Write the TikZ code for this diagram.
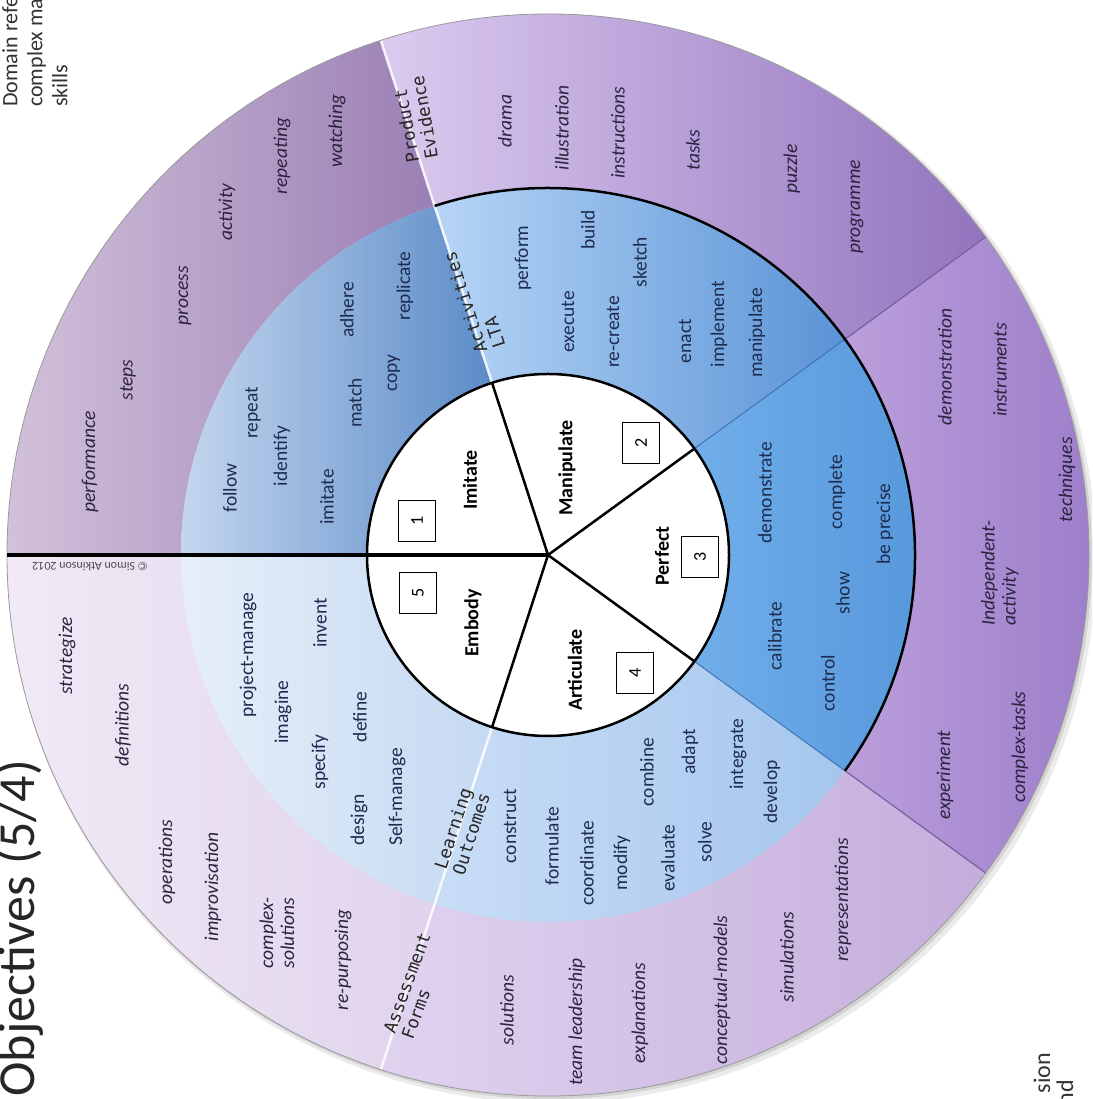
\documentclass[tikz,border=0pt]{standalone}
\usepackage{fontspec}
\setmainfont{Carlito}
\newfontfamily\monof{DejaVu Sans Mono}
\usetikzlibrary{calc}
\definecolor{oImL}{HTML}{D2C1DA}\definecolor{oImR}{HTML}{9A7FB4}
\definecolor{oMaL}{HTML}{DCCBEF}\definecolor{oMaR}{HTML}{9274BE}
\definecolor{oPeL}{HTML}{BA9FDB}\definecolor{oPeR}{HTML}{9A7AC8}
\definecolor{oArL}{HTML}{E0D3EF}\definecolor{oArR}{HTML}{C4ADDB}
\definecolor{oEmL}{HTML}{F1EAF6}\definecolor{oEmR}{HTML}{E0D3EC}
\definecolor{mImL}{HTML}{C4D6EE}\definecolor{mImR}{HTML}{5B8BC8}
\definecolor{mMaL}{HTML}{B7D5F6}\definecolor{mMaR}{HTML}{5A93D6}
\definecolor{mPeL}{HTML}{70AEEA}\definecolor{mPeR}{HTML}{5596DB}
\definecolor{mArL}{HTML}{C9DDF6}\definecolor{mArR}{HTML}{A5C6ED}
\definecolor{mEmL}{HTML}{E6EFF9}\definecolor{mEmR}{HTML}{C5D9F2}
\definecolor{midtext}{HTML}{1D2C4F}
\definecolor{outtext}{HTML}{2B2340}
\definecolor{lineP}{HTML}{7A5FA0}
\definecolor{lineB}{HTML}{3F74B5}
\newcommand\annsec[5]{%
  \shade[#1] ($(C)+(#4:#2)$) arc[start angle=#4, end angle=#5, radius=#2]
    -- ($(C)+(#5:#3)$) arc[start angle=#5, end angle=#4, radius=#3] -- cycle;}
\tikzset{
  mw/.style={rotate=90, inner sep=0pt, text=midtext, font=\fontsize{19.5}{21}\selectfont},
  ow/.style={rotate=90, inner sep=0pt, text=outtext, align=left, font=\fontsize{19.5}{21}\selectfont\itshape},
  pl/.style={rotate=90, inner sep=0pt, text=black, font=\fontsize{20}{24}\selectfont\bfseries},
  nb/.style={rotate=90, draw, line width=1pt, minimum width=41pt, minimum height=37pt, inner sep=0pt, font=\fontsize{18}{20}\selectfont},
  hd/.style={inner sep=0pt, align=left, text=black!85, font=\monof\fontsize{17.5}{19}\selectfont},
}
\begin{document}
\begin{tikzpicture}[x=1pt,y=1pt]
\useasboundingbox (0,0) rectangle (1092,1099);
\fill[white] (0,0) rectangle (1092,1099);
\clip (0,0) rectangle (1092,1099);
\coordinate (C) at (548,544);
% soft shadow
\fill[black, opacity=.08] ($(C)+(4,-4)$) circle[radius=544];
\fill[black, opacity=.10] ($(C)+(2,-2)$) circle[radius=542];
% outer ring
\annsec{left color=oImL,right color=oImR}{367}{541}{108}{180}
\annsec{left color=oMaL,right color=oMaR}{367}{541}{36}{108}
\annsec{left color=oPeL,right color=oPeR}{367}{541}{-36}{36}
\annsec{left color=oArL,right color=oArR}{367}{541}{-108}{-36}
\annsec{left color=oEmL,right color=oEmR}{367}{541}{180}{252}
% middle ring
\annsec{left color=mImL,right color=mImR}{181}{367}{108}{180}
\annsec{left color=mMaL,right color=mMaR}{181}{367}{36}{108}
\annsec{left color=mPeL,right color=mPeR}{181}{367}{-36}{36}
\annsec{left color=mArL,right color=mArR}{181}{367}{-108}{-36}
\annsec{left color=mEmL,right color=mEmR}{181}{367}{180}{252}
% boundaries
\foreach \a in {108,-108} \draw[white, line width=2.5pt, opacity=.85] ($(C)+(\a:181)$) -- ($(C)+(\a:541)$);
\foreach \a in {36,-36} \draw[lineP, line width=1.2pt] ($(C)+(\a:367)$) -- ($(C)+(\a:541)$);
\foreach \a in {36,-36} \draw[lineB, line width=1pt] ($(C)+(\a:181)$) -- ($(C)+(\a:367)$);
\draw[black, line width=2.5pt] ($(C)+(-36:367)$) arc[start angle=-36, end angle=108, radius=367];
\draw[gray!80, line width=.8pt] (C) circle[radius=541];
% inner pie
\draw[fill=white, line width=2.5pt] (C) circle[radius=181];
\foreach \a in {108,36,-36,-108} \draw[line width=2.5pt] (C) -- ($(C)+(\a:181)$);
\draw[line width=4pt] (C) -- ($(C)+(180:541)$);
% pie labels
\node[pl] (pImitate) at (470,619) {Imitate};
\node[pl] (pManipulate) at (567,631) {Manipulate};
\node[pl] (pPerfect) at (662,543) {Perfect};
\node[pl] (pArticulate) at (575,429) {Articulate};
\node[pl] (pEmbody) at (473,476) {Embody};
\node[nb] (b1) at (417,578) {1};
\node[nb] (b2) at (641,656) {2};
\node[nb] (b3) at (700,542) {3};
\node[nb] (b4) at (635,426) {4};
\node[nb] (b5) at (418,506) {5};
% headers
\node[hd, rotate=100] (hPE) at (415,980) {Product\\Evidence};
\node[hd, rotate=108] (hAL) at (474,799) {Activities\\LTA};
\node[hd, rotate=72] (hLO) at (462,268) {Learning\\Outcomes};
\node[hd, rotate=70] (hAF) at (416,113) {Assessment\\Forms};
% outer: imitate sector
\node[ow] (oPerformance) at (90,637) {performance};
\node[ow] (oSteps) at (128,719) {steps};
\node[ow] (oProcess) at (185,803) {process};
\node[ow] (oActivity) at (227,887) {activity};
\node[ow] (oRepeating) at (282,943) {repeating};
\node[ow] (oWatching) at (337,968) {watching};
% outer: manipulate sector
\node[ow] (oDrama) at (505,978) {drama};
\node[ow] (oIllustration) at (562,971) {illustration};
\node[ow] (oInstructions) at (618,966) {instructions};
\node[ow] (oTasks) at (693,949) {tasks};
\node[ow] (oPuzzle) at (792,930) {puzzle};
\node[ow] (oProgramme) at (857,892) {programme};
% outer: perfect sector
\node[ow] (oDemonstration) at (945,732) {demonstration};
\node[ow] (oInstruments) at (1000,729) {instruments};
\node[ow] (oTechniques) at (1067,619) {techniques};
\node[ow] (oIndependent) at (1000,526) {Independent-\\activity};
\node[ow] (oExperiment) at (945,324) {experiment};
\node[ow] (oComplexTasks) at (1020,352) {complex-tasks};
% outer: articulate sector
\node[ow] (oSolutions) at (507,89) {solutions};
\node[ow] (oTeam) at (577,77) {team leadership};
\node[ow] (oExplanations) at (640,86) {explanations};
\node[ow] (oConceptual) at (722,109) {conceptual-models};
\node[ow] (oSimulations) at (787,142) {simulations};
\node[ow] (oRepresentations) at (843,199) {representations};
% outer: embody sector
\node[ow] (oStrategize) at (67,443) {strategize};
\node[ow] (oDefinitions) at (123,374) {definitions};
\node[ow] (oOperations) at (167,237) {operations};
\node[ow] (oImprovisation) at (213,212) {improvisation};
\node[ow] (oComplexSol) at (277,166) {complex-\\solutions};
\node[ow] (oRepurposing) at (343,139) {re-purposing};
% middle: imitate
\node[mw] (mFollow) at (230,611) {follow};
\node[mw] (mRepeat) at (253,686) {repeat};
\node[mw] (mIdentify) at (282,643) {identify};
\node[mw] (mImitate) at (327,602) {imitate};
\node[mw] (mMatch) at (355,696) {match};
\node[mw] (mCopy) at (394,726) {copy};
\node[mw] (mAdhere) at (347,789) {adhere};
\node[mw] (mReplicate) at (405,813) {replicate};
% middle: manipulate
\node[mw] (mPerform) at (523,841) {perform};
\node[mw] (mBuild) at (588,869) {build};
\node[mw] (mExecute) at (568,777) {execute};
\node[mw] (mSketch) at (640,837) {sketch};
\node[mw] (mRecreate) at (613,767) {re-create};
\node[mw] (mEnact) at (685,758) {enact};
\node[mw] (mImplement) at (719,775) {implement};
\node[mw] (mManipulate) at (757,766) {manipulate};
% middle: perfect
\node[mw] (mDemonstrate) at (765,606) {demonstrate};
\node[mw] (mComplete) at (837,607) {complete};
\node[mw] (mPrecise) at (885,575) {be precise};
\node[mw] (mCalibrate) at (775,463) {calibrate};
\node[mw] (mShow) at (843,506) {show};
\node[mw] (mControl) at (828,416) {control};
% middle: articulate
\node[mw] (mConstruct) at (510,273) {construct};
\node[mw] (mFormulate) at (552,253) {formulate};
\node[mw] (mCoordinate) at (587,236) {coordinate};
\node[mw] (mModify) at (622,236) {modify};
\node[mw] (mCombine) at (647,327) {combine};
\node[mw] (mEvaluate) at (668,241) {evaluate};
\node[mw] (mAdapt) at (690,347) {adapt};
\node[mw] (mSolve) at (705,257) {solve};
\node[mw] (mIntegrate) at (738,345) {integrate};
\node[mw] (mDevelop) at (772,307) {develop};
% middle: embody
\node[mw] (mProject) at (248,444) {project-manage};
\node[mw] (mImagine) at (283,387) {imagine};
\node[mw] (mInvent) at (320,476) {invent};
\node[mw] (mSpecify) at (320,337) {specify};
\node[mw] (mDefine) at (360,382) {define};
\node[mw] (mDesign) at (359,279) {design};
\node[mw] (mSelf) at (397,302) {Self-manage};
% copyright
\node[rotate=180, inner sep=0pt, text=black!70, font=\fontsize{12}{14}\selectfont] (copyr) at (90,532) {© Simon Atkinson 2012};
% title and cut-off side texts
\node[rotate=90, anchor=base east, inner sep=0pt, text=black!85, font=\fontsize{52}{60}\selectfont] (title) at (34,339) {Objectives (5/4)};
\node[rotate=90, anchor=north west, align=left, inner sep=0pt, text=black!80, font=\fontsize{22}{25}\selectfont] (domain) at (2,992) {Domain refe\\complex ma\\skills};
\node[rotate=90, anchor=base east, inner sep=0pt, text=black!80, font=\fontsize{24}{24}\selectfont] (sion) at (1050,46) {sion};
\node[rotate=90, anchor=base east, inner sep=0pt, text=black!80, font=\fontsize{24}{24}\selectfont] (nd) at (1073,19) {nd};
\end{tikzpicture}
\end{document}
